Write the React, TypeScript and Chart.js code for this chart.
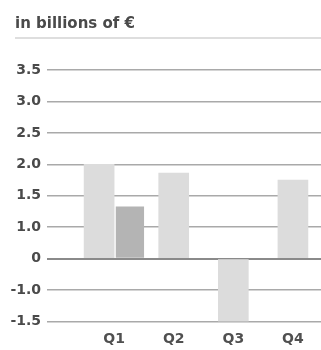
import React, { useEffect, useRef } from "react";
import { Chart, registerables } from "chart.js";

Chart.register(...registerables);

// Quarterly results, in billions of euros
const quarters = ["Q1", "Q2", "Q3", "Q4"];
const currentValues = [2.0, 1.86, -1.5, 1.75];
const comparisonValues: (number | null)[] = [1.33, null, null, null];

// The value axis is broken: its labelled steps are drawn evenly spaced
const axisSteps = [-1.5, -1.0, 0, 1.0, 1.5, 2.0, 2.5, 3.0, 3.5];
const axisLabels = ["-1.5", "-1.0", "0", "1.0", "1.5", "2.0", "2.5", "3.0", "3.5"];
const zeroStep = axisSteps.indexOf(0);

// Place a value on the evenly spaced step axis (zero sits at position 0)
function toStep(v: number): number {
  const last = axisSteps.length - 2;
  for (let i = 0; i <= last; i++) {
    const a = axisSteps[i];
    const b = axisSteps[i + 1];
    if (v <= b || i === last) return i + (v - a) / (b - a) - zeroStep;
  }
  return 0;
}

const FONT = "'DejaVu Sans', sans-serif";
const W = 321;
const H = 350;

export default function App() {
  const canvasRef = useRef<HTMLCanvasElement | null>(null);

  useEffect(() => {
    const canvas = canvasRef.current;
    if (!canvas) return;

    const currentData = quarters.map((_, i) => ({ x: i, y: toStep(currentValues[i]) }));
    const comparisonData = quarters
      .map((_, i) => (comparisonValues[i] == null ? null : { x: i, y: toStep(comparisonValues[i] as number) }))
      .filter((p) => p !== null);

    const chart = new Chart(canvas, {
      type: "bar",
      data: {
        datasets: [
          {
            label: "current",
            data: currentData as any,
            backgroundColor: "#dcdcdc",
            barThickness: 30,
            skipNull: true,
            borderWidth: 0,
          },
          {
            label: "comparison",
            data: comparisonData as any,
            backgroundColor: "#b4b4b4",
            borderColor: "#ffffff",
            borderWidth: { top: 0, right: 0, bottom: 0, left: 2 },
            borderSkipped: false,
            barThickness: 30,
            skipNull: true,
          },
        ],
      },
      options: {
        animation: false,
        responsive: false,
        devicePixelRatio: 1,
        layout: { padding: { top: 70, left: 0, right: 0, bottom: 0 } },
        plugins: {
          legend: { display: false },
          tooltip: { enabled: false },
        },
        scales: {
          x: {
            type: "linear",
            offset: false,
            min: -1.126,
            max: 3.471,
            grid: { display: false, drawTicks: false, offset: false },
            border: { display: false },
            afterBuildTicks: (scale: any) => {
              scale.ticks = quarters.map((_, i) => ({ value: i }));
            },
            afterFit: (scale: any) => {
              scale.height = 28.5;
            },
            ticks: {
              padding: 9,
              autoSkip: false,
              maxRotation: 0,
              color: "#505050",
              font: { family: FONT, size: 14, weight: "bold" },
              callback: (v: any) => quarters[Number(v)] ?? "",
            },
          },
          y: {
            type: "linear",
            min: toStep(axisSteps[0]),
            max: toStep(axisSteps[axisSteps.length - 1]),
            afterBuildTicks: (scale: any) => {
              scale.ticks = axisSteps.map((s) => ({ value: toStep(s) }));
            },
            afterFit: (scale: any) => {
              scale.width = 47;
            },
            border: { display: false },
            grid: {
              drawTicks: false,
              color: (ctx: any) => (ctx.tick && ctx.tick.value === 0 ? "#8a8a8a" : "#a9a9a9"),
              lineWidth: (ctx: any) => (ctx.tick && ctx.tick.value === 0 ? 2 : 1.5),
            },
            ticks: {
              padding: 6,
              color: "#4a4a4a",
              font: { family: FONT, size: 14, weight: "bold" },
              callback: (v: any) => axisLabels[Math.round(Number(v)) + zeroStep] ?? "",
            },
          },
        },
      },
    });

    return () => chart.destroy();
  }, []);

  return (
    <div style={{ position: "absolute", left: 0, top: 0, width: W, height: H, background: "#fff" }}>
      <canvas ref={canvasRef} width={W} height={H} style={{ position: "absolute", left: 0, top: 0 }} />
      <div
        style={{
          position: "absolute",
          left: 15,
          top: 15,
          lineHeight: "17px",
          fontFamily: FONT,
          fontSize: 15,
          fontWeight: "bold",
          color: "#4a4a4a",
          whiteSpace: "nowrap",
        }}
      >
        in billions of €
      </div>
      <div style={{ position: "absolute", left: 15, top: 37, width: W - 15, height: 2, background: "#dedede" }} />
    </div>
  );
}
